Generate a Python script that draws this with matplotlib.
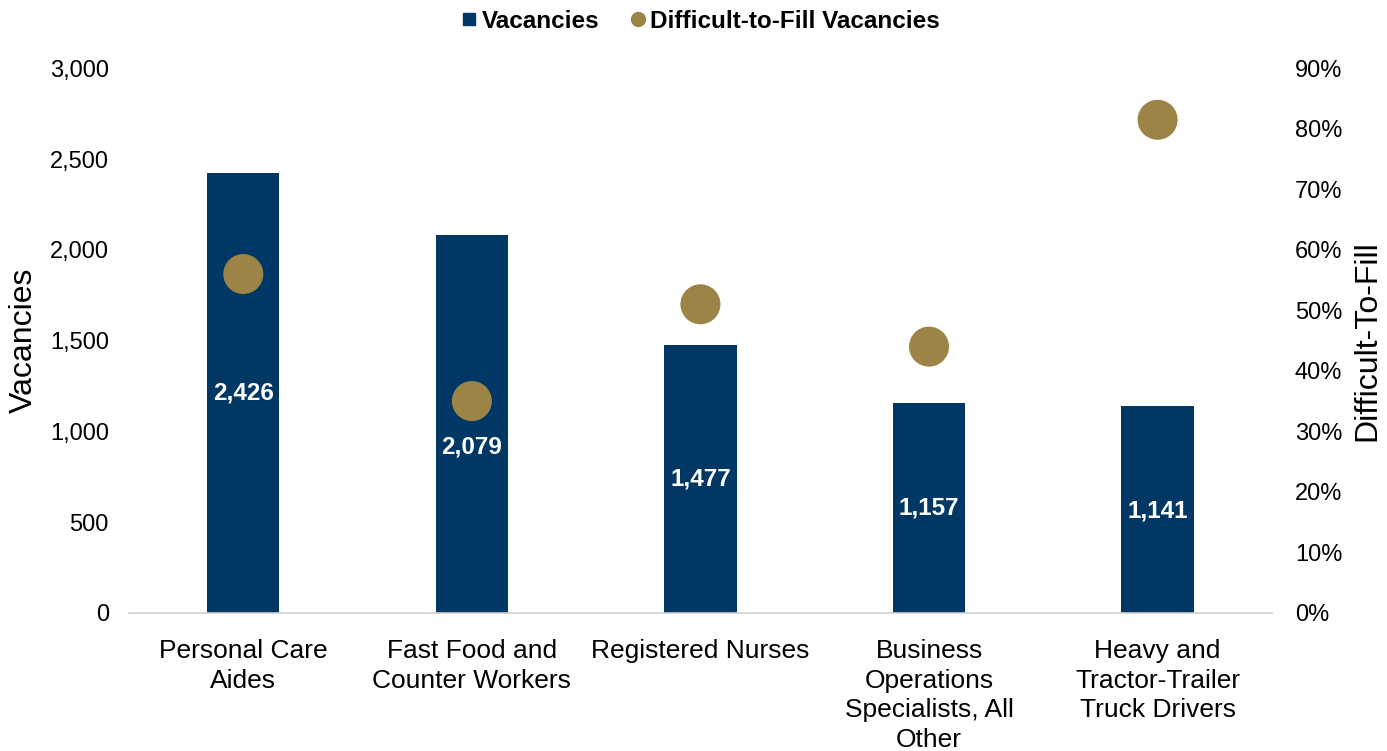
import numpy as np
import matplotlib
matplotlib.use("Agg")
import matplotlib.pyplot as plt
from matplotlib.ticker import FuncFormatter
from matplotlib.lines import Line2D

plt.rcParams['font.family'] = ['Liberation Sans', 'DejaVu Sans']

# data
occupations = ["Personal Care\nAides", "Fast Food and\nCounter Workers", "Registered Nurses",
               "Business\nOperations\nSpecialists, All\nOther",
               "Heavy and\nTractor-Trailer\nTruck Drivers"]
vacancies = [2426, 2079, 1477, 1157, 1141]
difficult_pct = [56, 35, 51, 44, 81.5]
# where the value label sits, as a share of bar height
label_frac = [0.5, 0.44, 0.5, 0.5, 0.49]

navy = "#003764"
gold = "#9B8445"

fig = plt.figure(figsize=(13.87, 7.51), dpi=100)
ax = fig.add_axes([0.093, 0.184, 0.824, 0.725])
ax2 = ax.twinx()

x = np.arange(len(occupations))
ax.bar(x, vacancies, width=0.316, color=navy, zorder=2)
for xi, v, f in zip(x, vacancies, label_frac):
    ax.text(xi, v * f, f"{v:,}", ha='center', va='center', color='white',
            fontsize=17.5, fontweight='bold', zorder=3)

ax2.scatter(x, difficult_pct, s=830, color=gold, zorder=4, edgecolors='none')

ax.set_xlim(-0.5, len(occupations) - 0.5)
ax.set_ylim(0, 3000)
ax.set_yticks(np.arange(0, 3001, 500))
ax.yaxis.set_major_formatter(FuncFormatter(lambda v, p: f"{int(v):,}"))
ax2.set_ylim(0, 90)
ax2.set_yticks(np.arange(0, 91, 10))
ax2.yaxis.set_major_formatter(FuncFormatter(lambda v, p: f"{int(v)}%"))

ax.set_xticks(x)
ax.set_xticklabels(occupations, fontsize=19, linespacing=1.29)
ax.tick_params(axis='x', length=0, pad=19)
ax.tick_params(axis='y', length=0, labelsize=17, pad=14.5)
ax2.tick_params(axis='y', length=0, labelsize=17, pad=16.5)

ax.set_ylabel("Vacancies", fontsize=23, labelpad=8)
ax2.set_ylabel("Difficult-To-Fill", fontsize=23, labelpad=7)

for a in (ax, ax2):
    for s in a.spines.values():
        s.set_visible(False)
ax.spines['bottom'].set_visible(True)
ax.spines['bottom'].set_color('#d0d0d0')
ax.spines['bottom'].set_linewidth(1.2)

handles = [Line2D([], [], marker='s', color=navy, linestyle='none', markersize=9),
           Line2D([], [], marker='o', color=gold, linestyle='none', markersize=10)]
fig.legend(handles, ["Vacancies", "Difficult-to-Fill Vacancies"], loc='upper center',
           bbox_to_anchor=(0.501, 1.016), ncol=2, frameon=False, handletextpad=-0.3,
           handlelength=1.6, columnspacing=0.8, prop={'size': 17.5, 'weight': 'bold'})

fig.savefig("out.png", dpi=100)
